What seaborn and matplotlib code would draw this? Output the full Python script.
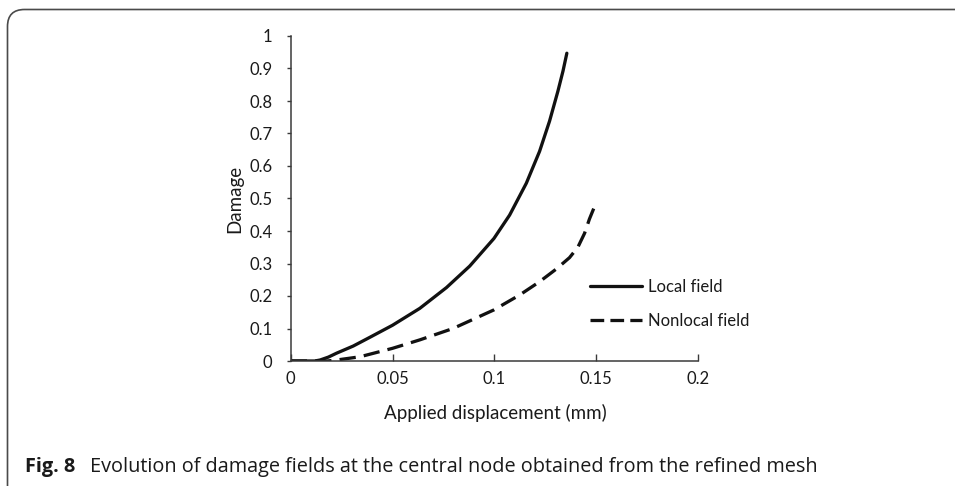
import numpy as np
import pandas as pd
import matplotlib
matplotlib.use("Agg")
import matplotlib.pyplot as plt
from matplotlib.patches import FancyBboxPatch
from matplotlib.lines import Line2D
from matplotlib.ticker import FixedLocator, FuncFormatter
import seaborn as sns

# ---- data ----
local_x = [0.0, 0.006, 0.0118, 0.0144, 0.0185, 0.0225, 0.0307, 0.0389, 0.05,
           0.0634, 0.0765, 0.0879, 0.0998, 0.1075, 0.1157, 0.1222, 0.1271,
           0.1312, 0.1337, 0.1356]
local_y = [0.0, 0.0, 0.0, 0.003, 0.012, 0.024, 0.046, 0.073, 0.110,
           0.162, 0.226, 0.292, 0.377, 0.449, 0.547, 0.645, 0.738,
           0.830, 0.892, 0.947]

nonlocal_x = [0.0, 0.01, 0.018, 0.0225, 0.034, 0.05, 0.0634, 0.0797, 0.0997,
              0.1124, 0.1222, 0.1304, 0.1369, 0.141, 0.1443, 0.1467, 0.1497]
nonlocal_y = [0.0, 0.0, 0.0, 0.003, 0.013, 0.039, 0.065, 0.100, 0.157,
              0.203, 0.244, 0.283, 0.318, 0.350, 0.393, 0.437, 0.483]

series_names = ["Local field", "Nonlocal field"]
x_ticks = [0, 0.05, 0.1, 0.15, 0.2]
y_ticks = [0, 0.1, 0.2, 0.3, 0.4, 0.5, 0.6, 0.7, 0.8, 0.9, 1]
x_label = "Applied displacement (mm)"
y_label = "Damage"
caption_bold = "Fig. 8"
caption_text = "Evolution of damage fields at the central node obtained from the refined mesh"

df = pd.concat([
    pd.DataFrame({"x": local_x, "y": local_y, "series": series_names[0]}),
    pd.DataFrame({"x": nonlocal_x, "y": nonlocal_y, "series": series_names[1]}),
], ignore_index=True)

# ---- style ----
sns.set_theme(style="white")
plt.rcParams["font.family"] = ["Lato", "DejaVu Sans"]

W, H = 955, 486
fig = plt.figure(figsize=(W / 100, H / 100), dpi=100)
fig.patch.set_facecolor("white")

ax_l, ax_r, ax_t, ax_b = 290.7, 698.0, 36.0, 361.0
ax = fig.add_axes([ax_l / W, 1 - ax_b / H, (ax_r - ax_l) / W, (ax_b - ax_t) / H])
ax.set_facecolor("white")

LW = 2.35
CURVE_DASH = (5.0, 2.5)
sns.lineplot(data=df, x="x", y="y", style="series",
             dashes={series_names[0]: "", series_names[1]: CURVE_DASH},
             color="#111111", linewidth=LW, estimator=None, sort=False,
             legend=False, ax=ax)
for ln in ax.get_lines():
    ln.set_solid_joinstyle("round")
    ln.set_dash_joinstyle("round")

ax.set_xlim(0, 0.2)
ax.set_ylim(0, 1)
ax.xaxis.set_major_locator(FixedLocator(x_ticks))
ax.yaxis.set_major_locator(FixedLocator(y_ticks))
fmt = FuncFormatter(lambda v, p: "%g" % round(v, 4))
ax.xaxis.set_major_formatter(fmt)
ax.yaxis.set_major_formatter(fmt)

for s in ["top", "right"]:
    ax.spines[s].set_visible(False)
for s in ["left", "bottom"]:
    ax.spines[s].set_color("#3a3a3a")
    ax.spines[s].set_linewidth(1.1)

tick_fs = 12
ax.tick_params(axis="y", direction="out", length=2.6, width=1.0, color="#3a3a3a",
               pad=10.5, labelsize=tick_fs, labelcolor="#1a1a1a", left=True)
ax.tick_params(axis="x", direction="in", length=5.0, width=1.0, color="#3a3a3a",
               pad=7.0, labelsize=tick_fs, labelcolor="#1a1a1a", bottom=True)

title_fs = 13.5
ax.set_xlabel(x_label, fontsize=title_fs, color="#1a1a1a", va="center")
ax.set_ylabel(y_label, fontsize=title_fs, color="#1a1a1a", va="center")
ax.xaxis.set_label_coords((495.0 - ax_l) / (ax_r - ax_l), (ax_b - 413) / (ax_b - ax_t))
ax.yaxis.set_label_coords((235.0 - ax_l) / (ax_r - ax_l), 0.5)

# legend
handles = [Line2D([], [], color="#111111", linewidth=LW, linestyle="-"),
           Line2D([], [], color="#111111", linewidth=LW, dashes=(4.2, 1.9))]
leg = ax.legend(handles, series_names, loc="upper left",
                bbox_to_anchor=(590 / W, 1 - 279 / H), bbox_transform=fig.transFigure,
                frameon=False, fontsize=tick_fs, handlelength=3.1, handletextpad=0.36,
                labelspacing=1.08, borderpad=0, borderaxespad=0)
for t in leg.get_texts():
    t.set_color("#1a1a1a")

# frame around the figure (rounded top-left corner)
frame = FancyBboxPatch((7.5 / 100, -0.5), 12.0, (H - 9.5) / 100 + 0.5,
                       boxstyle="round,pad=0,rounding_size=0.17",
                       transform=fig.dpi_scale_trans, facecolor="none",
                       edgecolor="#4a4a4a", linewidth=1.2, clip_on=False)
fig.add_artist(frame)

# caption
cap_y = 1 - 467 / H
fig.text(25 / W, cap_y, caption_bold, fontsize=14.3, fontweight="bold",
         family=["Open Sans", "DejaVu Sans"], color="#1a1a1a", va="center", ha="left")
fig.text(90 / W, cap_y, caption_text, fontsize=14.3,
         family=["Open Sans", "DejaVu Sans"], color="#1a1a1a", va="center", ha="left")

fig.savefig("out.png", dpi=100, facecolor="white")
